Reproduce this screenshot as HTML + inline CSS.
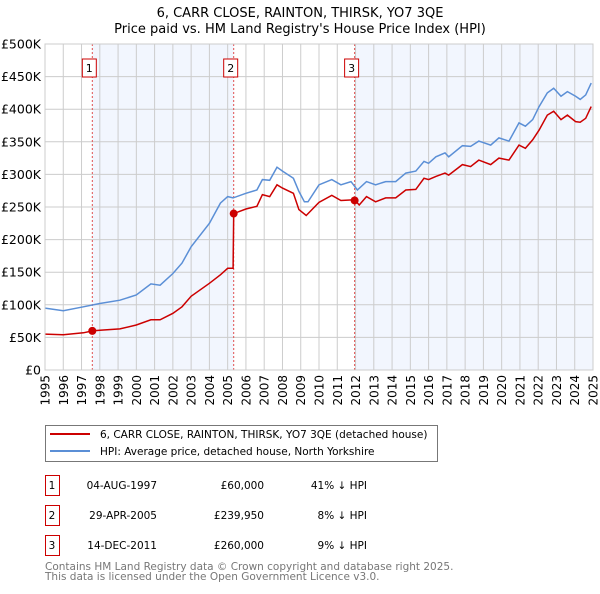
<!DOCTYPE html>
<html><head><meta charset="utf-8"><style>
body{margin:0;background:#fff;font-family:"DejaVu Sans","Liberation Sans",sans-serif;}
svg text{font-family:"DejaVu Sans","Liberation Sans",sans-serif;}
</style></head><body>
<svg id="chart" width="600" height="590" xmlns="http://www.w3.org/2000/svg">
<text x="300" y="17" text-anchor="middle" font-size="13">6, CARR CLOSE, RAINTON, THIRSK, YO7 3QE</text>
<text x="300" y="33" text-anchor="middle" font-size="13">Price paid vs. HM Land Registry's House Price Index (HPI)</text>
<g id="plot"></g>
<g>
<rect x="45.5" y="425.5" width="392" height="36" fill="#fff" stroke="#777"/>
<line x1="50" y1="434" x2="90" y2="434" stroke="#cc0000" stroke-width="2"/>
<text x="100" y="438" font-size="10.5">6, CARR CLOSE, RAINTON, THIRSK, YO7 3QE (detached house)</text>
<line x1="50" y1="451" x2="90" y2="451" stroke="#5b8fd6" stroke-width="2"/>
<text x="100" y="455" font-size="10.5">HPI: Average price, detached house, North Yorkshire</text>
</g>
<g id="table" font-size="10.5"></g>
<text x="45" y="570" font-size="10.5" fill="#777">Contains HM Land Registry data © Crown copyright and database right 2025.</text>
<text x="45" y="580" font-size="10.5" fill="#777">This data is licensed under the Open Government Licence v3.0.</text>
</svg>
<script>
const hpiDates=[1995,1996,1997.1,1998,1999.1,2000,2000.8,2001.3,2002,2002.5,2003,2004,2004.6,2005,2005.3,2006,2006.6,2006.9,2007.3,2007.7,2008,2008.6,2008.9,2009.2,2009.4,2010,2010.7,2011.2,2011.75,2012.1,2012.6,2013.1,2013.65,2014.2,2014.75,2015.3,2015.75,2016,2016.4,2016.9,2017.1,2017.85,2018.3,2018.75,2019.4,2019.85,2020.4,2020.95,2021.3,2021.7,2022.05,2022.5,2022.85,2023.25,2023.6,2024.05,2024.3,2024.6,2024.9];
const hpiValues=[95,91,97,102,107,115,132,130,148,164,189,225,256,266,264,271,276,292,291,311,305,294,274,258,258,284,292,284,289,276,289,284,289,289,302,305,320,317,327,333,327,344,343,351,345,356,351,379,374,384,404,425,432,420,427,420,415,422,440];
const paidDates=[1995,1996,1997.1,1997.6,1998,1999.1,2000,2000.8,2001.3,2002,2002.5,2003,2004,2004.6,2005,2005.3,2005.33,2006,2006.6,2006.9,2007.3,2007.7,2008,2008.6,2008.9,2009.3,2010,2010.7,2011.2,2011.95,2012.2,2012.6,2013.1,2013.65,2014.2,2014.75,2015.3,2015.75,2016,2016.4,2016.9,2017.1,2017.85,2018.3,2018.75,2019.4,2019.85,2020.4,2020.95,2021.3,2021.7,2022.05,2022.5,2022.85,2023.25,2023.6,2024.05,2024.3,2024.6,2024.9];
const paidValues=[55,54,57,60,61,63,69,77,77,87,97,113,133,146,156,156,239.95,247,251,269,266,284,279,271,246,237,257,268,260,261,253,266,258,264,264,276,277,294,292,297,302,299,315,312,322,315,325,322,345,340,353,368,391,397,384,391,381,380,386,404];
const saleDates=[1997.59,2005.33,2011.95];
const salePrices=[60000,239950,260000];
const saleLabels=["04-AUG-1997","29-APR-2005","14-DEC-2011"];
const salePriceText=["£60,000","£239,950","£260,000"];
const salePct=["41% ↓ HPI","8% ↓ HPI","9% ↓ HPI"];
const yTicks=[0,50,100,150,200,250,300,350,400,450,500];
const yTickLabels=["£0","£50K","£100K","£150K","£200K","£250K","£300K","£350K","£400K","£450K","£500K"];
const xYears=[1995,1996,1997,1998,1999,2000,2001,2002,2003,2004,2005,2006,2007,2008,2009,2010,2011,2012,2013,2014,2015,2016,2017,2018,2019,2020,2021,2022,2023,2024,2025];

const NS="http://www.w3.org/2000/svg";
const X0=45,X1=593,Y0=370,Y1=44;
const xs=y=>X0+(y-1995)/30*(X1-X0);
const ys=v=>Y0-v/500*(Y0-Y1);
function mk(tag,attrs,parent){const e=document.createElementNS(NS,tag);for(const k in attrs)e.setAttribute(k,attrs[k]);parent.appendChild(e);return e;}
const plot=document.getElementById('plot');
let r=mk('rect',{x:X0,y:Y1,width:X1-X0,height:Y0-Y1,fill:'#fff'},plot);


[[saleDates[0],saleDates[1]],[saleDates[2],2025]].forEach(s=>{
 const e=mk('rect',{x:xs(s[0]),y:Y1,width:xs(s[1])-xs(s[0]),height:Y0-Y1,fill:'#f2f6fe'},plot);
 
 
});
xYears.forEach(y=>{
 const l=mk('line',{x1:xs(y),x2:xs(y),y1:Y1,y2:Y0,stroke:'#ccc','stroke-width':1},plot);
 
 
 const t=mk('text',{x:0,y:0,'font-size':12,'text-anchor':'end',transform:`translate(${xs(y)+4.5},${Y0+5}) rotate(-90)`},plot);
 t.textContent=y;
 
 
});
yTicks.forEach((v,i)=>{
 const l=mk('line',{x1:X0,x2:X1,y1:ys(v),y2:ys(v),stroke:'#ccc','stroke-width':1},plot);
 
 
 const t=mk('text',{x:X0-4,y:ys(v)+4.5,'font-size':12.5,'text-anchor':'end'},plot);
 t.textContent=yTickLabels[i];
 
 
});
saleDates.forEach((d,i)=>{
 const l=mk('line',{x1:xs(d),x2:xs(d),y1:Y1,y2:Y0,stroke:'#e05050','stroke-width':1,'stroke-dasharray':'2,2'},plot);
 
 
 const b=mk('rect',{x:xs(d)-10,y:59,width:14,height:18,fill:'#fff',stroke:'#cc0000'},plot);
 
 
 const t=mk('text',{x:xs(d)-3,y:72,'font-size':11,'text-anchor':'middle'},plot);
 t.textContent=i+1;
 
 
});
const path=(d,v)=>d.map((x,i)=>(i?'L':'M')+xs(x).toFixed(1)+','+ys(v[i]).toFixed(1)).join('');
let p=mk('path',{d:path(hpiDates,hpiValues),fill:'none',stroke:'#5b8fd6','stroke-width':1.5},plot);


p=mk('path',{d:path(paidDates,paidValues),fill:'none',stroke:'#cc0000','stroke-width':1.5},plot);


saleDates.forEach((d,i)=>{
 const c=mk('circle',{cx:xs(d),cy:ys(salePrices[i]/1000),r:4,fill:'#cc0000'},plot);
 
 
});
const ax=mk('rect',{x:X0,y:Y1,width:X1-X0,height:Y0-Y1,fill:'none',stroke:'#ccc'},plot);


const tb=document.getElementById('table');
saleDates.forEach((d,i)=>{
 const y0=475+i*30;
 const b=mk('rect',{x:45.5,y:y0+0.5,width:14,height:20,fill:'#fff',stroke:'#cc0000'},tb);
 
 
 const vals=[[i+1,52,'middle'],[saleLabels[i],157,'end'],[salePriceText[i],264,'end'],[salePct[i],367,'end']];
 vals.forEach(v=>{
  const t=mk('text',{x:v[1],y:y0+14,'text-anchor':v[2]},tb);
  t.textContent=v[0];
  
  
 });
});
</script>
</body></html>
